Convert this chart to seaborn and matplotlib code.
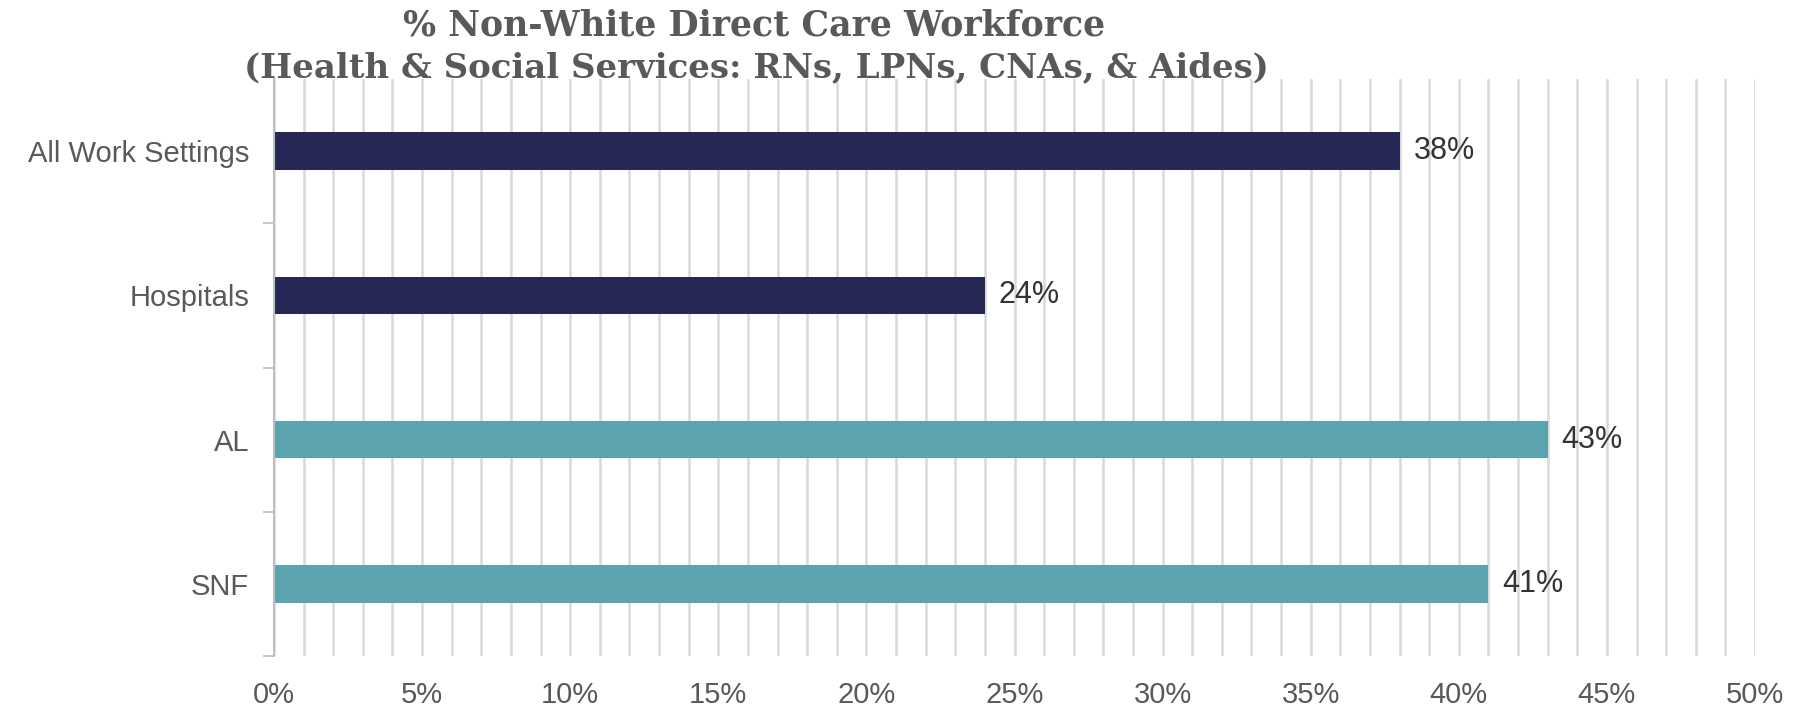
import matplotlib
matplotlib.use('Agg')
import matplotlib.pyplot as plt
import seaborn as sns
import pandas as pd
from matplotlib.ticker import FixedLocator, MultipleLocator

categories = ["All Work Settings", "Hospitals", "AL", "SNF"]
values = [38, 24, 43, 41]
bar_colors = ["#262754", "#262754", "#5BA3AE", "#5BA3AE"]
x_ticks = [0, 5, 10, 15, 20, 25, 30, 35, 40, 45, 50]
x_tick_labels = [f"{t}%" for t in x_ticks]
title_line1 = "% Non-White Direct Care Workforce"
title_line2 = "(Health & Social Services: RNs, LPNs, CNAs, & Aides)"

sns.set_theme(style="white")
plt.rcParams['font.family'] = ['Liberation Sans', 'DejaVu Sans']

W, H = 1800, 709
fig = plt.figure(figsize=(W / 100, H / 100), dpi=100)
left, right, top, bottom = 274, 1755, 79, 656
ax = fig.add_axes([left / W, 1 - bottom / H, (right - left) / W, (bottom - top) / H])

df = pd.DataFrame({"cat": categories, "val": values})
sns.barplot(data=df, y="cat", x="val", hue="cat", palette=bar_colors,
            width=0.26, ax=ax, legend=False, saturation=1, orient="h",
            linewidth=0)

ax.set_xlim(0, 50)
ax.set_ylim(3.5, -0.5)
ax.xaxis.set_major_locator(FixedLocator(x_ticks))
ax.set_xticklabels(x_tick_labels)
ax.xaxis.set_minor_locator(MultipleLocator(1))
ax.grid(which='both', axis='x', color='#d9d9d9', linewidth=1.8)
ax.grid(False, axis='y')
ax.set_axisbelow(True)

ax.yaxis.set_minor_locator(FixedLocator([0.5, 1.5, 2.5, 3.5]))
ax.tick_params(axis='y', which='major', length=0, pad=18, labelsize=21, labelcolor='#595959')
ax.tick_params(axis='y', which='minor', length=8, width=1.2, color='#bfbfbf', left=True)
ax.tick_params(axis='x', which='both', length=0, pad=18, labelsize=21, labelcolor='#595959')
ax.set_xlabel("")
ax.set_ylabel("")

for s in ['top', 'right', 'bottom']:
    ax.spines[s].set_visible(False)
ax.spines['left'].set_color('#bfbfbf')
ax.spines['left'].set_linewidth(1.5)

for c in ax.containers:
    ax.bar_label(c, labels=[f"{v:.0f}%" for v in c.datavalues], padding=10,
                 fontsize=22, color='#333333')

fig.text(754 / W, 1 - 26 / H, title_line1, ha='center', va='center',
         family='DejaVu Serif', weight='bold', fontsize=25, color='#595959')
fig.text(756 / W, 1 - 68 / H, title_line2, ha='center', va='center',
         family='DejaVu Serif', weight='bold', fontsize=24.5, color='#595959')

fig.savefig("out.png", dpi=100)
